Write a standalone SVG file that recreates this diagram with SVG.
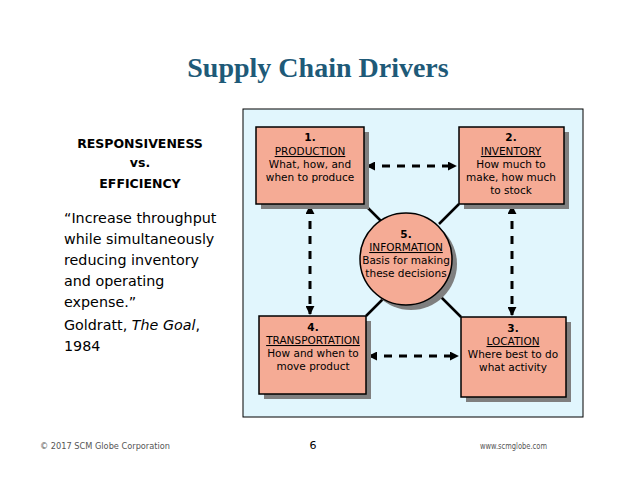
<svg xmlns="http://www.w3.org/2000/svg" width="638" height="493" viewBox="0 0 638 493">
<defs>
<style>
.t{font-family:"DejaVu Sans","Noto Sans",sans-serif;fill:#000;text-anchor:middle}
.box{fill:#f5ab95;stroke:#000;stroke-width:1.5}
.sh{fill:#7f7f7f}
.nt{font-size:10.5px}
.num{font-weight:bold}
.dash{stroke:#000;stroke-width:3;stroke-dasharray:8,7;fill:none}
.solid{stroke:#000;stroke-width:2.5}
.q{font-family:"DejaVu Sans","Noto Sans",sans-serif;font-size:14.3px;fill:#000}
.f{font-family:"DejaVu Sans","Noto Sans",sans-serif;font-size:8px;fill:#555}
</style>
<marker id="ah" viewBox="0 0 10 10" refX="9" refY="5" markerWidth="3" markerHeight="3" orient="auto-start-reverse">
<path d="M0,0 L10,5 L0,10 z" fill="#000"/>
</marker>
</defs>
<rect width="638" height="493" fill="#fff"/>
<text x="318" y="77" font-family="Liberation Serif,serif" font-weight="bold" font-size="28" fill="#1e5a78" text-anchor="middle">Supply Chain Drivers</text>

<g id="left-text">
<text class="t" x="140" y="148" font-size="12.5" font-weight="bold">RESPONSIVENESS</text>
<text class="t" x="140" y="167" font-size="12.5" font-weight="bold">vs.</text>
<text class="t" x="140" y="188" font-size="12.5" font-weight="bold">EFFICIENCY</text>
<text class="q" x="64" y="223">“Increase throughput</text>
<text class="q" x="64" y="244">while simultaneously</text>
<text class="q" x="64" y="265">reducing inventory</text>
<text class="q" x="64" y="286">and operating</text>
<text class="q" x="64" y="307">expense.”</text>
<text class="q" x="64" y="330">Goldratt, <tspan font-style="italic">The Goal</tspan>,</text>
<text class="q" x="64" y="351">1984</text>
</g>

<rect id="panel" x="243" y="109" width="340" height="308" fill="#e1f6fd" stroke="#000" stroke-width="1"/>

<g id="connectors">
<line class="solid" x1="364" y1="204" x2="384" y2="224"/>
<line class="solid" x1="459" y1="204" x2="439" y2="224"/>
<line class="solid" x1="366" y1="316" x2="385" y2="297"/>
<line class="solid" x1="461" y1="317" x2="441" y2="297"/>
<line class="dash" x1="367" y1="166" x2="456" y2="166" marker-start="url(#ah)" marker-end="url(#ah)"/>
<line class="dash" x1="369" y1="356" x2="458" y2="356" marker-start="url(#ah)" marker-end="url(#ah)"/>
<line class="dash" x1="310" y1="206" x2="310" y2="314" marker-start="url(#ah)" marker-end="url(#ah)"/>
<line class="dash" x1="512" y1="206" x2="512" y2="315" marker-start="url(#ah)" marker-end="url(#ah)"/>
</g>

<g id="node1">
<rect class="sh" x="261" y="132" width="108" height="77"/>
<rect class="box" x="256" y="127" width="108" height="77"/>
<text class="t nt num" x="310" y="141">1.</text>
<text class="t nt" x="310" y="155" text-decoration="underline">PRODUCTION</text>
<text class="t nt" x="310" y="168">What, how, and</text>
<text class="t nt" x="310" y="181">when to produce</text>
</g>
<g id="node2">
<rect class="sh" x="464" y="132" width="105" height="77"/>
<rect class="box" x="459" y="127" width="105" height="77"/>
<text class="t nt num" x="511" y="141">2.</text>
<text class="t nt" x="511" y="155" text-decoration="underline">INVENTORY</text>
<text class="t nt" x="511" y="168">How much to</text>
<text class="t nt" x="511" y="181">make, how much</text>
<text class="t nt" x="511" y="194">to stock</text>
</g>
<g id="node5">
<circle class="sh" cx="411" cy="264" r="46"/>
<circle class="box" cx="406" cy="259" r="46"/>
<text class="t nt num" x="406" y="238">5.</text>
<text class="t nt" x="406" y="251" text-decoration="underline">INFORMATION</text>
<text class="t nt" x="406" y="264" font-size="10px">Basis for making</text>
<text class="t nt" x="406" y="277" font-size="10px">these decisions</text>
</g>
<g id="node4">
<rect class="sh" x="264" y="321" width="107" height="78"/>
<rect class="box" x="259" y="316" width="107" height="78"/>
<text class="t nt num" x="313" y="331">4.</text>
<text class="t nt" x="313" y="344" font-size="10px" text-decoration="underline">TRANSPORTATION</text>
<text class="t nt" x="313" y="357">How and when to</text>
<text class="t nt" x="313" y="370">move product</text>
</g>
<g id="node3">
<rect class="sh" x="466" y="322" width="105" height="80"/>
<rect class="box" x="461" y="317" width="105" height="80"/>
<text class="t nt num" x="513" y="332">3.</text>
<text class="t nt" x="513" y="345" text-decoration="underline">LOCATION</text>
<text class="t nt" x="513" y="358">Where best to do</text>
<text class="t nt" x="513" y="371">what activity</text>
</g>

<g id="footer">
<text class="f" x="40" y="449" textLength="130" lengthAdjust="spacingAndGlyphs">© 2017 SCM Globe Corporation</text>
<text x="313" y="449" font-family="DejaVu Sans,sans-serif" font-size="11" fill="#000" text-anchor="middle">6</text>
<text class="f" x="480" y="449" textLength="67" lengthAdjust="spacingAndGlyphs">www.scmglobe.com</text>
</g>
</svg>
